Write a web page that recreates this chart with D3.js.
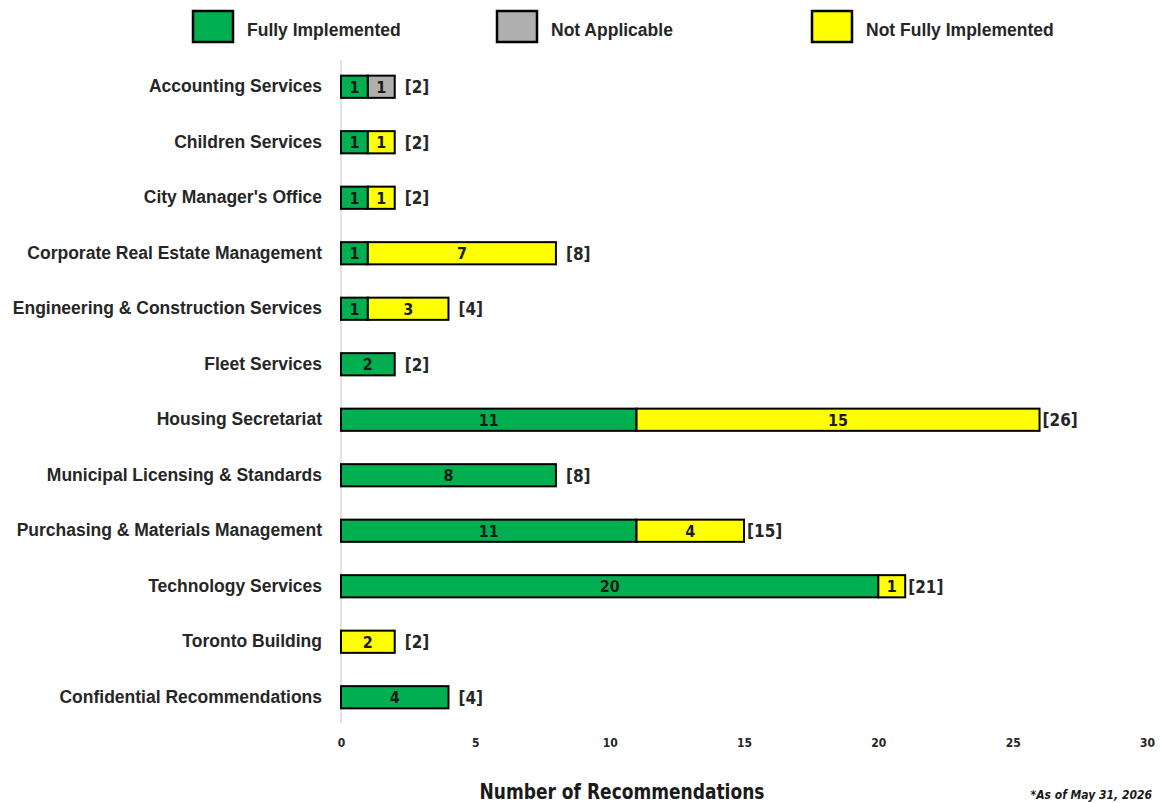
<!DOCTYPE html>
<html>
<head>
  <title>Recommendations by Division</title>
  <script src="https://d3js.org/d3.v7.min.js"></script>
  <style>
    body { margin: 0; background: #fff; }
  </style>
</head>
<body>
  <div id="chart"></div>
  <script>
    // Data
    const categories = [
      "Accounting Services",
      "Children Services",
      "City Manager's Office",
      "Corporate Real Estate Management",
      "Engineering & Construction Services",
      "Fleet Services",
      "Housing Secretariat",
      "Municipal Licensing & Standards",
      "Purchasing & Materials Management",
      "Technology Services",
      "Toronto Building",
      "Confidential Recommendations"
    ];
    const fullyImplemented = [1, 1, 1, 1, 1, 2, 11, 8, 11, 20, 0, 4];
    const notApplicable    = [1, 0, 0, 0, 0, 0, 0, 0, 0, 0, 0, 0];
    const notFully         = [0, 1, 1, 7, 3, 0, 15, 0, 4, 1, 2, 0];
    const seriesNames = ["Fully Implemented", "Not Applicable", "Not Fully Implemented"];
    const xTicks = [0, 5, 10, 15, 20, 25, 30];

    const colors = {
      "Fully Implemented": "#00B050",
      "Not Applicable": "#AFAFAF",
      "Not Fully Implemented": "#FFFF00"
    };

    const rows = categories.map((c, i) => ({
      category: c,
      "Fully Implemented": fullyImplemented[i],
      "Not Applicable": notApplicable[i],
      "Not Fully Implemented": notFully[i]
    }));

    const width = 1161, height = 803;
    const condensed = "'Liberation Sans Narrow', 'DejaVu Sans Condensed', Arial, sans-serif";

    const svg = d3.select("#chart")
      .append("svg")
      .attr("width", width)
      .attr("height", height);

    // Scales
    const x = d3.scaleLinear().domain([0, 30]).range([341, 1147]);
    const y = d3.scaleBand()
      .domain(categories)
      .range([59, 725])
      .paddingInner(0.6)
      .paddingOuter(0.3);

    // Vertical axis line
    svg.append("line")
      .attr("x1", x(0)).attr("x2", x(0))
      .attr("y1", 60).attr("y2", 723)
      .attr("stroke", "#d9d9d9")
      .attr("stroke-width", 1.5);

    // Category labels
    svg.append("g")
      .selectAll("text")
      .data(categories)
      .join("text")
      .attr("x", 322)
      .attr("y", d => y(d) + y.bandwidth() / 2)
      .attr("dy", "0.3em")
      .attr("text-anchor", "end")
      .style("font-family", "Arial, 'Liberation Sans', sans-serif")
      .style("font-weight", "bold")
      .style("font-size", "17.5px")
      .style("fill", "#262626")
      .text(d => d);

    // X axis tick labels
    const xAxis = svg.append("g")
      .attr("transform", "translate(0,738)")
      .call(d3.axisBottom(x).tickValues(xTicks).tickSize(0).tickPadding(0));
    xAxis.select(".domain").remove();
    xAxis.selectAll("text")
      .style("font-family", condensed)
      .style("font-weight", "bold")
      .style("font-size", "12px")
      .style("fill", "#262626");

    // Stacked bars
    const stack = d3.stack().keys(seriesNames);
    const stacked = stack(rows);

    const layer = svg.append("g")
      .selectAll("g")
      .data(stacked)
      .join("g")
      .attr("fill", d => colors[d.key]);

    layer.selectAll("rect")
      .data(d => d.filter(s => s[1] - s[0] > 0))
      .join("rect")
      .attr("x", d => x(d[0]))
      .attr("y", d => y(d.data.category))
      .attr("width", d => x(d[1]) - x(d[0]))
      .attr("height", y.bandwidth())
      .attr("stroke", "#000")
      .attr("stroke-width", 2);

    layer.selectAll("text")
      .data(d => d.filter(s => s[1] - s[0] > 0))
      .join("text")
      .attr("x", d => (x(d[0]) + x(d[1])) / 2)
      .attr("y", d => y(d.data.category) + y.bandwidth() / 2)
      .attr("dy", "0.36em")
      .attr("text-anchor", "middle")
      .style("font-family", condensed)
      .style("font-weight", "bold")
      .style("font-size", "16px")
      .style("fill", "#1a1a1a")
      .text(d => d[1] - d[0]);

    // Totals
    svg.append("g")
      .selectAll("text")
      .data(rows)
      .join("text")
      .attr("x", d => {
        const t = d["Fully Implemented"] + d["Not Applicable"] + d["Not Fully Implemented"];
        return x(t) + (t >= 10 ? 3 : 10);
      })
      .attr("y", d => y(d.category) + y.bandwidth() / 2)
      .attr("dy", "0.38em")
      .style("font-family", condensed)
      .style("font-weight", "bold")
      .style("font-size", "17px")
      .style("fill", "#262626")
      .text(d => "[" + (d["Fully Implemented"] + d["Not Applicable"] + d["Not Fully Implemented"]) + "]");

    // Legend
    const legendX = [193, 497, 812];
    const legend = svg.append("g")
      .selectAll("g")
      .data(seriesNames)
      .join("g")
      .attr("transform", (d, i) => `translate(${legendX[i]},11)`);
    legend.append("rect")
      .attr("width", 40)
      .attr("height", 31)
      .attr("fill", d => colors[d])
      .attr("stroke", "#000")
      .attr("stroke-width", 2.5);
    legend.append("text")
      .attr("x", 54)
      .attr("y", 19)
      .attr("dy", "0.35em")
      .style("font-family", "Arial, 'Liberation Sans', sans-serif")
      .style("font-weight", "bold")
      .style("font-size", "17.5px")
      .style("fill", "#262626")
      .text(d => d);

    // Axis title
    svg.append("text")
      .attr("x", 622)
      .attr("y", 799)
      .attr("text-anchor", "middle")
      .attr("textLength", 285)
      .attr("lengthAdjust", "spacingAndGlyphs")
      .style("font-family", condensed)
      .style("font-weight", "bold")
      .style("font-size", "21px")
      .style("fill", "#1a1a1a")
      .text("Number of Recommendations");

    // Note
    svg.append("text")
      .attr("x", 1152)
      .attr("y", 799)
      .attr("text-anchor", "end")
      .style("font-family", condensed)
      .style("font-weight", "bold")
      .style("font-style", "italic")
      .style("font-size", "12px")
      .style("fill", "#1a1a1a")
      .text("*As of May 31, 2026");
  </script>
</body>
</html>
